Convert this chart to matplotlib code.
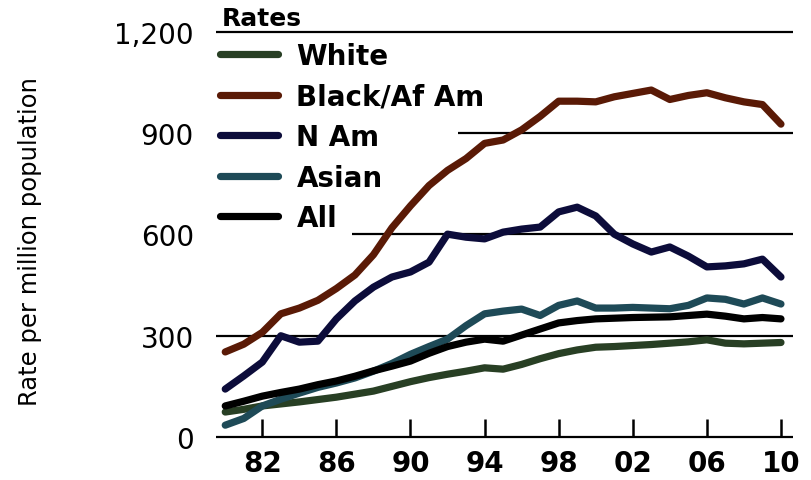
import matplotlib.pyplot as plt

years = list(range(1980, 2011))

white = [74, 82, 92, 98, 104, 111, 118, 127, 136, 150, 164, 176, 186, 195, 205, 201, 215, 232, 247, 258, 266, 268, 271, 274, 278, 282, 288, 278, 276, 278, 280]
black_af = [252, 275, 310, 365, 382, 405, 440, 480, 540, 620, 685, 745, 790, 825, 870, 880, 910, 950, 995, 995, 993, 1008, 1018, 1028, 1000, 1012, 1020, 1005, 993, 985, 927]
n_am = [142, 181, 222, 300, 281, 284, 350, 403, 444, 474, 489, 518, 601, 592, 587, 607, 616, 622, 667, 681, 655, 601, 572, 548, 563, 536, 504, 507, 513, 527, 474]
asian = [35, 55, 92, 112, 130, 147, 160, 175, 195, 218, 245, 268, 290, 330, 365, 373, 379, 360, 390, 403, 382, 382, 384, 382, 380, 390, 412, 408, 394, 412, 394]
all_rates = [92, 106, 121, 132, 142, 155, 166, 180, 196, 210, 225, 248, 268, 281, 290, 284, 302, 320, 338, 345, 350, 352, 354, 355, 356, 360, 364, 358, 350, 354, 350]

series = [
    ("White", white, "#283f24"),
    ("Black/Af Am", black_af, "#5a1a06"),
    ("N Am", n_am, "#0c0c3a"),
    ("Asian", asian, "#1e4a57"),
    ("All", all_rates, "#000000"),
]

plt.rcParams['font.family'] = ['DejaVu Sans']

fig = plt.figure(figsize=(8.12, 4.81), dpi=100)
ax = fig.add_axes([0.266, 0.0894, 0.7106, 0.842])

# gridlines (partly hidden behind the legend in the original)
grid_start = {1200: 1979.5, 900: 1992.55, 600: 1986.85, 300: 1979.5, 0: 1979.5}
for val, x0 in grid_start.items():
    ax.hlines(val, x0, 2010.65, color='black', lw=1.6, clip_on=False, zorder=1)

handles = []
for name, vals, col in series:
    h, = ax.plot(years, vals, color=col, lw=5.2, solid_capstyle='round',
                 solid_joinstyle='round', label=name, zorder=3)
    handles.append(h)

ax.set_xlim(1979.5, 2010.65)
ax.set_ylim(0, 1200)
for s in ax.spines.values():
    s.set_visible(False)

xt = list(range(1982, 2011, 4))
ax.set_xticks(xt)
ax.set_xticklabels([str(y)[2:] for y in xt], fontsize=20, fontweight='bold')
ax.tick_params(axis='x', direction='in', length=13, width=1.8, pad=9)
ax.set_yticks([0, 300, 600, 900, 1200])
ax.set_yticklabels(['0', '300', '600', '900', '1,200'], fontsize=20)
ax.tick_params(axis='y', length=0, pad=16)

ax.set_ylabel('Rate per million population', fontsize=17.5)
ax.yaxis.set_label_coords(-0.302, 0.484)

ax.text(0.01, 1.005, 'Rates', transform=ax.transAxes, fontsize=18, fontweight='bold',
        va='bottom', ha='left')

leg = ax.legend(handles=handles, loc='upper left', bbox_to_anchor=(0.007, 0.975),
                frameon=False, fontsize=20, handlelength=2.1, handletextpad=0.65,
                labelspacing=0.45, borderaxespad=0, borderpad=0)
for t in leg.get_texts():
    t.set_fontweight('bold')

fig.savefig('out.png', dpi=100)
